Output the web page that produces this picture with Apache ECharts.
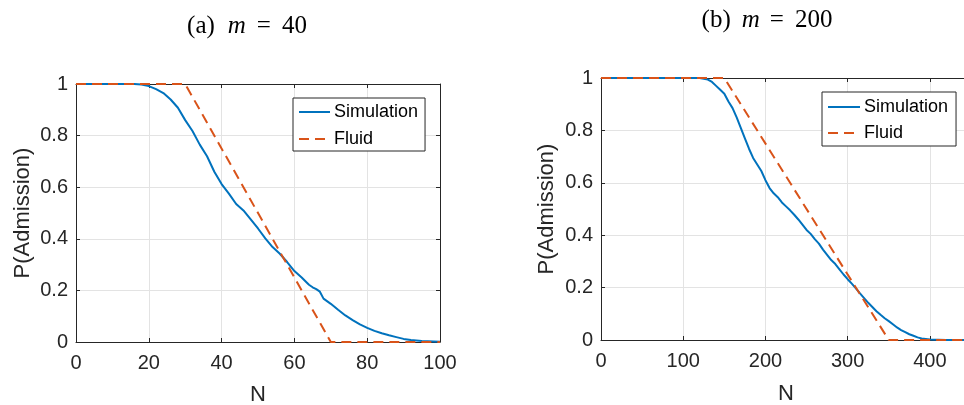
<!DOCTYPE html>
<html>
<head>
<meta charset="utf-8">
<script src="https://cdn.jsdelivr.net/npm/echarts@6/dist/echarts.min.js"></script>
<style>html,body{margin:0;padding:0;background:#fff}#c{width:964px;height:405px}</style>
</head>
<body>
<div id="c"></div>
<script>
// ---- Panel (a): m = 40 ----
const nA   = [0,4,8,12,16,18,20,22,24,26,28,30,32,34,36,38,40,42,44,46,48,50,52,54,56,58,60,62,64,65,66,67,68,70,72,74,76,78,80,82,84,86,88,90,92,95,100];
const simA = [1,1,1,1,1,0.998,0.992,0.98,0.965,0.94,0.908,0.86,0.818,0.765,0.72,0.66,0.612,0.575,0.535,0.51,0.475,0.44,0.402,0.368,0.342,0.31,0.275,0.25,0.222,0.212,0.205,0.195,0.168,0.148,0.125,0.103,0.085,0.068,0.055,0.043,0.034,0.026,0.019,0.012,0.008,0.004,0.001];
const nFluidA = [0,30,70,100];
const fluidA  = [1,1,0,0];

// ---- Panel (b): m = 200 ----
const nB   = [0,50,100,120,130,135,140,145,150,155,160,165,170,175,180,185,190,195,200,205,210,215,220,225,230,235,240,245,250,255,260,265,270,275,280,285,290,295,300,305,310,315,320,325,330,335,340,345,350,355,360,365,370,375,380,385,390,395,400,410,420,450];
const simB = [1,1,1,1,0.994,0.985,0.97,0.955,0.94,0.91,0.885,0.85,0.81,0.77,0.73,0.695,0.67,0.645,0.61,0.58,0.56,0.545,0.525,0.51,0.495,0.478,0.46,0.44,0.42,0.405,0.385,0.368,0.345,0.325,0.305,0.29,0.27,0.25,0.232,0.215,0.197,0.178,0.16,0.142,0.126,0.11,0.096,0.083,0.072,0.06,0.048,0.038,0.03,0.022,0.016,0.01,0.006,0.004,0.002,0.001,0,0];
const nFluidB = [0,150,350,450];
const fluidB  = [1,1,0,0];

const seriesNames = ['Simulation','Fluid'];
const yTicks = {min:0, max:1, interval:0.2};
const xTicksA = {min:0, max:100, interval:20};
const xTicksB = {min:0, max:450, interval:100};

const AX = '#262626', GRIDC = '#e3e3e3', BLUE = '#0072BD', ORANGE = '#D95319';
const SANS = 'Liberation Sans, Arial, sans-serif';
const SERIF = 'Liberation Serif, Times New Roman, serif';

const pairs = (xs, ys) => xs.map((x, i) => [x, ys[i]]);

function mainX(gi, t, nameGap, hideMax) {
  return {
    gridIndex: gi, type: 'value', position: 'bottom', min: t.min, max: t.max, interval: t.interval,
    axisLine: {show: true, onZero: false, lineStyle: {color: AX, width: 1}},
    axisTick: {show: true, inside: true, length: 4, lineStyle: {color: AX}},
    axisLabel: {margin: 11, fontSize: 20, color: AX, fontFamily: SANS,
      formatter: v => (hideMax && v === t.max) ? '' : String(v)},
    splitLine: {show: true, lineStyle: {color: GRIDC, width: 1}},
    name: 'N', nameLocation: 'middle', nameGap: nameGap,
    nameTextStyle: {fontSize: 22, color: AX, fontFamily: SANS}
  };
}
function topX(gi, t) {
  return {
    gridIndex: gi, type: 'value', position: 'top', min: t.min, max: t.max, interval: t.interval,
    axisLine: {show: true, onZero: false, lineStyle: {color: AX, width: 1}},
    axisTick: {show: true, inside: true, length: 4, lineStyle: {color: AX}},
    axisLabel: {show: false}, splitLine: {show: false}
  };
}
function mainY(gi, nameGap) {
  return {
    gridIndex: gi, type: 'value', position: 'left', min: yTicks.min, max: yTicks.max, interval: yTicks.interval,
    axisLine: {show: true, onZero: false, lineStyle: {color: AX, width: 1}},
    axisTick: {show: true, inside: true, length: 4, lineStyle: {color: AX}},
    axisLabel: {margin: 8, fontSize: 20, color: AX, fontFamily: SANS},
    splitLine: {show: true, lineStyle: {color: GRIDC, width: 1}},
    name: 'P(Admission)', nameLocation: 'middle', nameGap: nameGap,
    nameTextStyle: {fontSize: 22, color: AX, fontFamily: SANS}
  };
}
function rightY(gi) {
  return {
    gridIndex: gi, type: 'value', position: 'right', min: yTicks.min, max: yTicks.max, interval: yTicks.interval,
    axisLine: {show: true, onZero: false, lineStyle: {color: AX, width: 1}},
    axisTick: {show: true, inside: true, length: 4, lineStyle: {color: AX}},
    axisLabel: {show: false}, splitLine: {show: false}
  };
}
function legendAt(left, top, itemWidth, padding, itemGap) {
  return {
    data: seriesNames, orient: 'vertical', left: left, top: top,
    itemWidth: itemWidth, itemHeight: 14, itemGap: itemGap, padding: padding,
    backgroundColor: '#fff', borderColor: AX, borderWidth: 1, borderRadius: 0,
    itemStyle: {opacity: 0, borderWidth: 0},
    textStyle: {fontSize: 18, color: '#000', fontFamily: SANS, padding: [0,0,0,-1]},
    selectedMode: false
  };
}
function simSeries(xi, yi, data) {
  return {name: seriesNames[0], type: 'line', xAxisIndex: xi, yAxisIndex: yi, data: data,
    symbol: 'none', smooth: false, lineStyle: {color: BLUE, width: 2}, itemStyle: {color: BLUE}, animation: false};
}
function fluidSeries(xi, yi, data) {
  return {name: seriesNames[1], type: 'line', xAxisIndex: xi, yAxisIndex: yi, data: data,
    symbol: 'none', lineStyle: {color: ORANGE, width: 2, type: [10, 6]}, itemStyle: {color: ORANGE}, animation: false};
}

const chart = echarts.init(document.getElementById('c'), null, {renderer: 'canvas'});
chart.setOption({
  animation: false,
  backgroundColor: '#fff',
  grid: [
    {left: 76, top: 84, width: 364, height: 258, containLabel: false, outerBoundsMode: 'none'},
    {left: 601, top: 78, width: 370, height: 262, containLabel: false, outerBoundsMode: 'none'}
  ],
  xAxis: [mainX(0, xTicksA, 42, false), topX(0, xTicksA), mainX(1, xTicksB, 43, true), topX(1, xTicksB)],
  yAxis: [mainY(0, 42), rightY(0), mainY(1, 43), rightY(1)],
  legend: [
    legendAt(293, 98, 31, [5, 7, 3, 5], 9),
    legendAt(822, 92, 32, [6, 8, 4, 5], 8)
  ],
  series: [
    simSeries(0, 0, pairs(nA, simA)),
    fluidSeries(0, 0, pairs(nFluidA, fluidA)),
    simSeries(2, 2, pairs(nB, simB)),
    fluidSeries(2, 2, pairs(nFluidB, fluidB))
  ],
  graphic: [
    {type: 'text', x: 247, y: 26, silent: true, style: {
      text: '{n|(a)}{g1|}{i|m}{g2|}{n|=}{g3|}{n|40}', textAlign: 'center', textVerticalAlign: 'middle',
      rich: {n: {fontFamily: SERIF, fontSize: 25, fill: '#000'},
             i: {fontFamily: SERIF, fontSize: 25, fontStyle: 'italic', fill: '#000'},
             g1: {width: 13}, g2: {width: 11}, g3: {width: 11}}}},
    {type: 'text', x: 767, y: 20, silent: true, style: {
      text: '{n|(b)}{g1|}{i|m}{g2|}{n|=}{g3|}{n|200}', textAlign: 'center', textVerticalAlign: 'middle',
      rich: {n: {fontFamily: SERIF, fontSize: 25, fill: '#000'},
             i: {fontFamily: SERIF, fontSize: 25, fontStyle: 'italic', fill: '#000'},
             g1: {width: 11}, g2: {width: 10}, g3: {width: 11}}}}
  ]
});
</script>
</body>
</html>
